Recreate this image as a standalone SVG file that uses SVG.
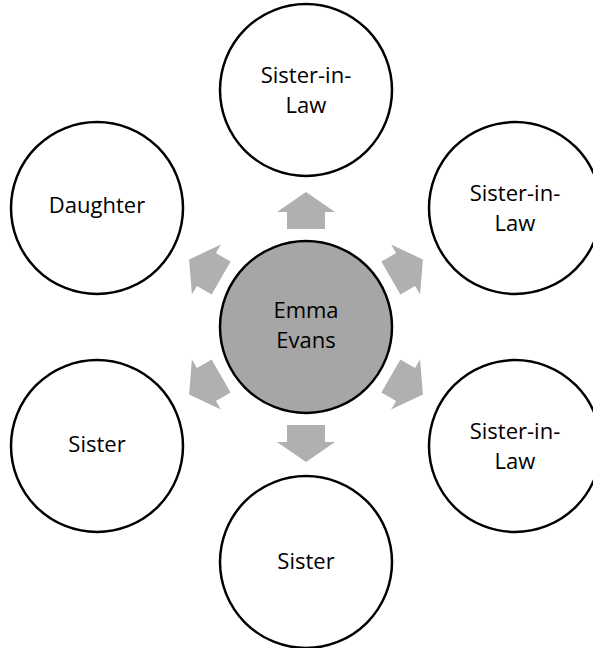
<svg xmlns="http://www.w3.org/2000/svg" width="593" height="648" viewBox="0 0 593 648">
  <defs>
    <style>
      .node { fill: #ffffff; stroke: #000000; stroke-width: 2.5; }
      .hub { fill: #a6a6a6; stroke: #000000; stroke-width: 2.5; }
      .label { font-family: "Open Sans", "Noto Sans", sans-serif; font-size: 22px; fill: #000000; text-anchor: middle; }
      .arrow { fill: #b0b0b0; }
    </style>
    <!-- block arrow pointing along +x, starting near the hub edge -->
    <polygon id="blockArrow" points="98,-19 115,-19 115,-29 135,0 115,29 115,19 98,19"/>
  </defs>

  <rect width="593" height="648" fill="#ffffff"/>

  <g id="connectors">
    <use href="#blockArrow" class="arrow" transform="translate(306,327) rotate(-90)"/>
    <use href="#blockArrow" class="arrow" transform="translate(306,327) rotate(-30)"/>
    <use href="#blockArrow" class="arrow" transform="translate(306,327) rotate(30)"/>
    <use href="#blockArrow" class="arrow" transform="translate(306,327) rotate(90)"/>
    <use href="#blockArrow" class="arrow" transform="translate(306,327) rotate(150)"/>
    <use href="#blockArrow" class="arrow" transform="translate(306,327) rotate(210)"/>
  </g>

  <g id="emma-evans">
    <circle class="hub" cx="306" cy="327" r="86"/>
    <text class="label" x="306" y="318">Emma</text>
    <text class="label" x="306" y="348">Evans</text>
  </g>

  <g id="sister-in-law-top">
    <circle class="node" cx="306" cy="90" r="86"/>
    <text class="label" x="306" y="83">Sister-in-</text>
    <text class="label" x="306" y="113">Law</text>
  </g>

  <g id="sister-in-law-upper-right">
    <circle class="node" cx="515" cy="208" r="86"/>
    <text class="label" x="515" y="201">Sister-in-</text>
    <text class="label" x="515" y="231">Law</text>
  </g>

  <g id="sister-in-law-lower-right">
    <circle class="node" cx="515" cy="446" r="86"/>
    <text class="label" x="515" y="439">Sister-in-</text>
    <text class="label" x="515" y="469">Law</text>
  </g>

  <g id="sister-bottom">
    <circle class="node" cx="306" cy="562" r="86"/>
    <text class="label" x="306" y="569">Sister</text>
  </g>

  <g id="sister-lower-left">
    <circle class="node" cx="97" cy="446" r="86"/>
    <text class="label" x="97" y="452">Sister</text>
  </g>

  <g id="daughter">
    <circle class="node" cx="97" cy="208" r="86"/>
    <text class="label" x="97" y="213">Daughter</text>
  </g>
</svg>
